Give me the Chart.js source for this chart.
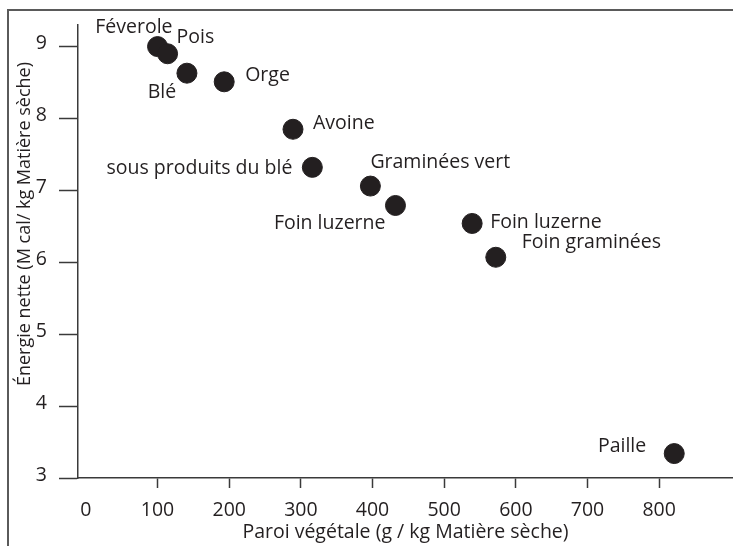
<!DOCTYPE html>
<html>
<head>
<meta charset="utf-8">
<script src="https://cdn.jsdelivr.net/npm/chart.js@4/dist/chart.umd.min.js"></script>
<style>
  html, body { margin: 0; padding: 0; background: #fff; }
  #wrap { width: 733px; height: 546px; position: relative; }
</style>
</head>
<body>
<div id="wrap"><canvas id="chart"></canvas></div>
<script>
// Data
const names = ['Féverole', 'Pois', 'Blé', 'Orge', 'Avoine', 'sous produits du blé',
               'Graminées vert', 'Foin luzerne', 'Foin luzerne', 'Foin graminées', 'Paille'];
const paroi = [100, 114, 141, 193, 289, 316, 397, 432, 539, 572, 821];
const energie = [9.0, 8.9, 8.63, 8.51, 7.85, 7.32, 7.06, 6.79, 6.54, 6.07, 3.34];
const xTicks = [0, 100, 200, 300, 400, 500, 600, 700, 800];
const yTicks = [3, 4, 5, 6, 7, 8, 9];
const xTitle = 'Paroi végétale (g / kg Matière sèche)';
const yTitle = 'Énergie nette (M cal/ kg Matière sèche)';

// where each name sits next to its dot: [align, dx, dy]
const labelPlace = [
  ['right', 15, -19], ['left', 9, -16], ['center', -25, 19], ['left', 21, -6],
  ['left', 20, -6], ['right', -20, 1], ['left', 0, -24], ['right', -10, 18],
  ['left', 18, -1], ['left', 26, -15], ['right', -28, -7]
];

const ink = '#231f20';
const axisCol = '#3a3a3a';
const fontFam = '"Open Sans", "Noto Sans", sans-serif';
const fontSize = 19.5;

const framePlugin = {
  id: 'frame',
  beforeDraw(chart) {
    const c = chart.ctx;
    c.save();
    c.strokeStyle = '#5a5a5a';
    c.lineWidth = 2;
    c.beginPath();
    c.moveTo(8, 546);
    c.lineTo(8, 10);
    c.lineTo(733, 10);
    c.stroke();
    c.restore();
  }
};

const labelPlugin = {
  id: 'pointNames',
  afterDatasetsDraw(chart) {
    const c = chart.ctx;
    const pts = chart.getDatasetMeta(0).data;
    c.save();
    c.font = fontSize + 'px ' + fontFam;
    c.fillStyle = ink;
    c.textBaseline = 'middle';
    pts.forEach((p, i) => {
      const [align, dx, dy] = labelPlace[i];
      c.textAlign = align;
      c.fillText(names[i], p.x + dx, p.y + dy);
    });
    // rotated y title
    c.font = '18px ' + fontFam;
    c.translate(25, 224);
    c.rotate(-Math.PI / 2);
    c.textAlign = 'center';
    c.fillText(yTitle, 0, 0);
    c.restore();
  }
};

new Chart(document.getElementById('chart'), {
  type: 'scatter',
  data: {
    datasets: [{
      data: paroi.map((x, i) => ({ x: x, y: energie[i] })),
      backgroundColor: ink,
      borderColor: ink,
      pointRadius: 10,
      pointHoverRadius: 10
    }]
  },
  options: {
    responsive: true,
    maintainAspectRatio: false,
    animation: false,
    layout: { autoPadding: false, padding: { top: 25, right: 0, bottom: 0, left: 0 } },
    plugins: { legend: { display: false }, tooltip: { enabled: false } },
    scales: {
      x: {
        type: 'linear',
        min: -11,
        max: 903,
        afterBuildTicks: s => { s.ticks = xTicks.map(v => ({ value: v })); },
        afterFit: s => { s.height = 68; s.paddingLeft = 0; s.paddingRight = 0; },
        border: { display: true, color: axisCol, width: 1.5 },
        grid: {
          drawOnChartArea: false,
          drawTicks: true,
          tickLength: 10,
          tickWidth: 1.5,
          tickColor: ctx => (ctx.tick && ctx.tick.value === 0) ? 'rgba(0,0,0,0)' : axisCol
        },
        ticks: {
          color: ink,
          font: { family: fontFam, size: fontSize },
          padding: 11,
          maxRotation: 0,
          autoSkip: false
        },
        title: {
          display: true,
          text: xTitle,
          color: ink,
          font: { family: fontFam, size: fontSize },
          padding: { top: 0, bottom: 2 }
        }
      },
      y: {
        type: 'linear',
        min: 3,
        max: 9.3,
        afterBuildTicks: s => { s.ticks = yTicks.map(v => ({ value: v })); },
        afterFit: s => { s.width = 78; },
        border: { display: true, color: axisCol, width: 1.5 },
        grid: {
          drawOnChartArea: false,
          drawTicks: true,
          tickLength: 19,
          tickWidth: 1.5,
          tickColor: axisCol
        },
        ticks: {
          color: ink,
          font: { family: fontFam, size: fontSize },
          padding: 12,
          labelOffset: -3,
          autoSkip: false
        }
      }
    }
  },
  plugins: [framePlugin, labelPlugin]
});
</script>
</body>
</html>
